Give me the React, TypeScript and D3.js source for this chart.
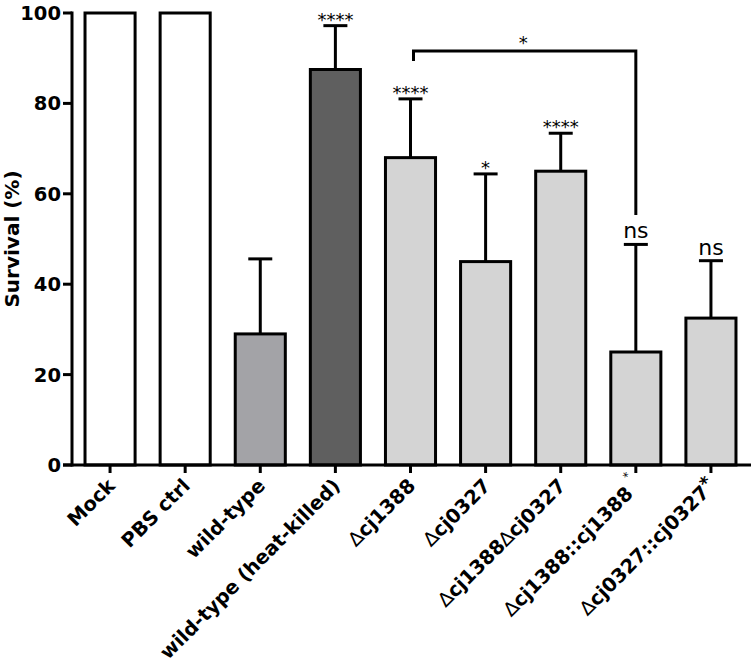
import React from "react";
import * as d3 from "d3";

const categories = [
  "Mock",
  "PBS ctrl",
  "wild-type",
  "wild-type (heat-killed)",
  "Δcj1388",
  "Δcj0327",
  "Δcj1388Δcj0327",
  "Δcj1388::cj1388",
  "Δcj0327::cj0327",
];
const survival = [100, 100, 29, 87.5, 68, 45, 65, 25, 32.5];
const errorUpper = [null, null, 45.6, 97.2, 81, 64.4, 73.4, 48.8, 45.2];
const significance = ["", "", "", "****", "****", "*", "****", "ns", "ns"];
const labelSuperscripts = ["", "", "", "", "", "", "", "*", "*"];
const yTicks = [0, 20, 40, 60, 80, 100];
const bracketFrom = "Δcj1388";
const bracketTo = "Δcj1388::cj1388";
const bracketLabel = "*";
const bracketTop = 91.6;
const bracketLeftEnd = 89.4;
const bracketRightEnd = 55.3;

const fills = ["#ffffff", "#ffffff", "#a3a3a7", "#5f5f5f", "#d4d4d4", "#d4d4d4", "#d4d4d4", "#d4d4d4", "#d4d4d4"];

const W = 756;
const H = 668;
const FONT = "'DejaVu Sans', sans-serif";

function Label({ text, sup, idx }: { text: string; sup: string; idx: number }) {
  const parts = text.split(/(Δ)/).filter((p) => p !== "");
  return (
    <>
      {parts.map((p, i) =>
        p === "Δ" ? (
          <tspan key={i} fontWeight="normal">
            {"∆"}
          </tspan>
        ) : (
          <tspan key={i}>{p}</tspan>
        )
      )}
      {sup && idx === 7 ? (
        <tspan dx={5} dy={-14} fontSize={12} fontWeight="normal">
          {sup}
        </tspan>
      ) : null}
      {sup && idx === 8 ? (
        <tspan dy={-5} fontSize={18} fontWeight="bold">
          {sup}
        </tspan>
      ) : null}
    </>
  );
}

export default function App() {
  const x = d3
    .scaleBand<string>()
    .domain(categories)
    .range([72.5, 748.5])
    .paddingInner(1 / 3)
    .paddingOuter(1 / 6);
  const y = d3.scaleLinear().domain([0, 100]).range([465, 13]);
  const bw = x.bandwidth();
  const cx = (c: string) => (x(c) as number) + bw / 2;
  const capHalf = 12;

  return (
    <svg
      width={W}
      height={H}
      style={{ position: "absolute", left: 0, top: 0, background: "#fff" }}
      fontFamily={FONT}
    >
      {/* bars */}
      {categories.map((c, i) => (
        <g key={c}>
          {errorUpper[i] != null ? (
            <g stroke="#000" strokeWidth={3}>
              <line x1={cx(c)} x2={cx(c)} y1={y(survival[i])} y2={y(errorUpper[i] as number)} />
              <line
                x1={cx(c) - capHalf}
                x2={cx(c) + capHalf}
                y1={y(errorUpper[i] as number)}
                y2={y(errorUpper[i] as number)}
              />
            </g>
          ) : null}
          <rect
            x={x(c)}
            y={y(survival[i])}
            width={bw}
            height={y(0) - y(survival[i])}
            fill={fills[i]}
            stroke="#000"
            strokeWidth={3}
          />
        </g>
      ))}

      {/* significance labels */}
      {categories.map((c, i) =>
        significance[i] ? (
          <text
            key={"s" + c}
            x={cx(c)}
            y={y(errorUpper[i] as number) - (significance[i] === "ns" ? 6 : 0)}
            textAnchor="middle"
            fontSize={significance[i] === "ns" ? 22 : 18}
            fill="#000"
          >
            {significance[i]}
          </text>
        ) : null
      )}

      {/* bracket */}
      <path
        d={`M${cx(bracketFrom) + 3},${y(bracketLeftEnd)} V${y(bracketTop)} H${cx(bracketTo)} V${y(bracketRightEnd)}`}
        fill="none"
        stroke="#000"
        strokeWidth={3}
      />
      <text
        x={(cx(bracketFrom) + cx(bracketTo)) / 2}
        y={y(bracketTop) - 2}
        textAnchor="middle"
        fontSize={18}
      >
        {bracketLabel}
      </text>

      {/* y axis */}
      <g stroke="#000" strokeWidth={3}>
        <line x1={72} x2={72} y1={y(100) - 1.5} y2={y(0) + 1.5} />
        {yTicks.map((t) => (
          <line key={t} x1={63} x2={72} y1={y(t)} y2={y(t)} />
        ))}
      </g>
      {yTicks.map((t) => (
        <text
          key={"yt" + t}
          x={61}
          y={y(t)}
          dy="0.36em"
          textAnchor="end"
          fontSize={19.5}
          fontWeight="bold"
        >
          {t}
        </text>
      ))}
      <text
        transform={`translate(19,${(y(0) + y(100)) / 2}) rotate(-90)`}
        textAnchor="middle"
        fontSize={20}
        fontWeight="bold"
      >
        Survival (%)
      </text>

      {/* x axis */}
      <g stroke="#000" strokeWidth={3}>
        <line x1={63} x2={751} y1={y(0)} y2={y(0)} />
        {categories.map((c) => (
          <line key={"xt" + c} x1={cx(c)} x2={cx(c)} y1={y(0)} y2={y(0) + 8} />
        ))}
      </g>
      {categories.map((c, i) => (
        <text
          key={"xl" + c}
          transform={`translate(${cx(c) + 6},${487}) rotate(-45)`}
          textAnchor="end"
          fontSize={19.5}
          fontWeight="bold"
        >
          <Label text={c} sup={labelSuperscripts[i]} idx={i} />
        </text>
      ))}
    </svg>
  );
}
